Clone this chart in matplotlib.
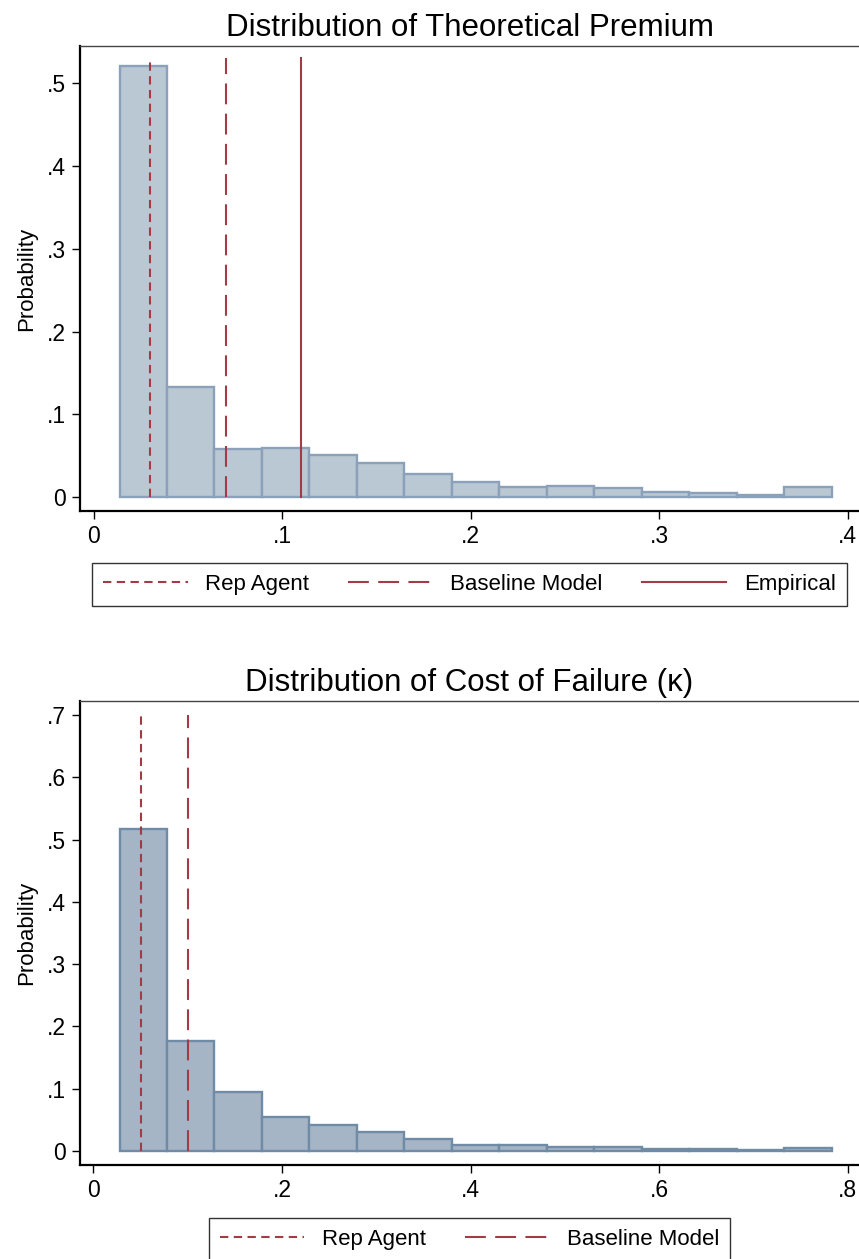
import matplotlib
matplotlib.use("Agg")
import matplotlib.pyplot as plt
import numpy as np

# histogram of theoretical premium (probability per bin)
prem_start = 0.0138
prem_width = 0.02517
prem_prob = [0.520, 0.133, 0.058, 0.060, 0.051, 0.041, 0.028, 0.019,
             0.013, 0.014, 0.011, 0.0065, 0.005, 0.0026, 0.013]
prem_lines = [0.030, 0.070, 0.110]
prem_labels = ["Rep Agent", "Baseline Model", "Empirical"]
prem_ticks = [0, 0.1, 0.2, 0.3, 0.4]
prem_yticks = [0, 0.1, 0.2, 0.3, 0.4, 0.5]
prem_line_top = 0.53

# histogram of cost of failure (kappa)
cost_start = 0.0276
cost_width = 0.05034
cost_prob = [0.517, 0.177, 0.095, 0.055, 0.042, 0.030, 0.020, 0.009,
             0.010, 0.0057, 0.0057, 0.003, 0.0025, 0.001, 0.0044]
cost_lines = [0.050, 0.100]
cost_labels = ["Rep Agent", "Baseline Model"]
cost_ticks = [0, 0.2, 0.4, 0.6, 0.8]
cost_yticks = [0, 0.1, 0.2, 0.3, 0.4, 0.5, 0.6, 0.7]
cost_line_top = 0.70

plt.rcParams['font.family'] = ['Liberation Sans', 'DejaVu Sans']

W, H = 859, 1259
fig = plt.figure(figsize=(W / 100, H / 100), dpi=100)

red = '#a33a46'
styles = [(0, (4, 2.6)), (0, (10, 4.5)), '-']


def stata_fmt(v):
    s = "%g" % round(v, 3)
    if s.startswith("0."):
        s = s[1:]
    return s


def panel(rect, start, width, probs, lines, labels, ticks, yticks, line_top,
          xlim, ylim, title, fill, edge, leg_y):
    l, t, r, b = rect
    ax = fig.add_axes([l / W, 1 - b / H, (r - l) / W, (b - t) / H])
    edges = start + width * np.arange(len(probs) + 1)
    ax.bar(edges[:-1], probs, width=width, align='edge', color=fill,
           edgecolor=edge, linewidth=1.7, zorder=2)
    for x, lab, ls in zip(lines, labels, styles):
        ax.plot([x, x], [0, line_top], color=red, lw=1.5, linestyle=ls,
                label=lab, zorder=3)
    ax.set_xlim(*xlim)
    ax.set_ylim(*ylim)
    ax.set_xticks(ticks)
    ax.set_xticklabels([stata_fmt(v) for v in ticks])
    ax.set_yticks(yticks)
    ax.set_yticklabels([stata_fmt(v) for v in yticks])
    ax.tick_params(labelsize=16.5, length=6, width=1.0, direction='out', pad=4)
    ax.set_ylabel("Probability", fontsize=16, labelpad=7)
    ax.set_title(title, fontsize=22.5, pad=7)
    ax.spines['right'].set_visible(False)
    ax.spines['left'].set_linewidth(1.6)
    ax.spines['bottom'].set_linewidth(1.6)
    ax.spines['top'].set_linewidth(1.0)
    ax.spines['top'].set_color('#444444')
    leg = ax.legend(loc='upper center', bbox_to_anchor=(0.5, leg_y),
                    ncol=len(lines), fontsize=16, frameon=True, fancybox=False,
                    edgecolor='black', handlelength=3.8, handletextpad=0.8,
                    columnspacing=1.75, borderaxespad=0, borderpad=0.5)
    leg.get_frame().set_linewidth(1.0)
    return ax


panel((80, 46, 859, 511), prem_start, prem_width, prem_prob, prem_lines,
      prem_labels, prem_ticks, prem_yticks, prem_line_top,
      (-0.00716, 0.4059), (-0.0165, 0.5447),
      "Distribution of Theoretical Premium", '#bac8d4', '#8ba1b9', -0.112)

panel((80, 701, 859, 1165), cost_start, cost_width, cost_prob, cost_lines,
      cost_labels, cost_ticks, cost_yticks, cost_line_top,
      (-0.0143, 0.8118), (-0.0225, 0.7224),
      "Distribution of Cost of Failure (\u03ba)", '#a5b5c5', '#6f8ba6', -0.114)

fig.savefig("out.png", dpi=100)
